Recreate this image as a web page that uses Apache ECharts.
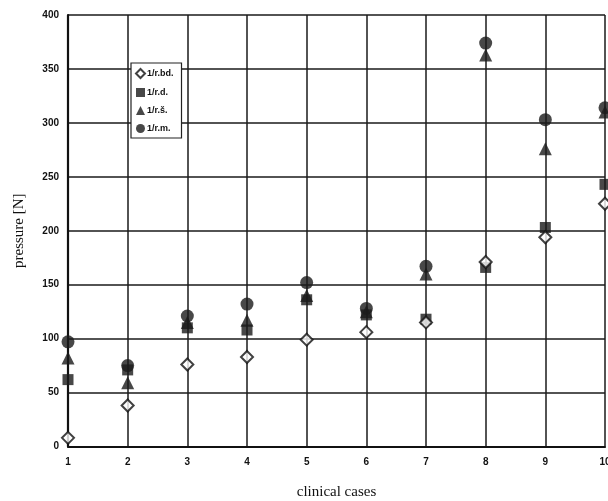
<!DOCTYPE html>
<html><head><meta charset="utf-8">
<script src="https://cdn.jsdelivr.net/npm/echarts@6/dist/echarts.min.js"></script>
<style>html,body{margin:0;padding:0;background:#fff}#c{width:608px;height:501px}</style>
</head><body><div id="c"></div>
<script>
const cases = [1,2,3,4,5,6,7,8,9,10];
const seriesNames = ['1/r.bd.', '1/r.d.', '1/r.š.', '1/r.m.'];
const rBd = [8, 38, 76, 83, 99, 106, 115, 171, 194, 225];
const rD  = [62, 71, 110, 108, 136, 122, 118, 166, 203, 243];
const rS  = [82, 59, 115, 117, 140, 125, 160, 363, 276, 310];
const rM  = [97, 75, 121, 132, 152, 128, 167, 374, 303, 314];
const yTicks = [0, 50, 100, 150, 200, 250, 300, 350, 400];

const pair = v => cases.map((c, i) => [c, v[i]]);
const chart = echarts.init(document.getElementById('c'), null, {renderer: 'canvas'});
const sym = {
  '1/r.bd.': {symbol: 'diamond', size: 12, style: {color: '#fff', borderColor: '#111', borderWidth: 2}},
  '1/r.d.': {symbol: 'rect', size: 11, style: {color: '#1a1a1a'}},
  '1/r.š.': {symbol: 'triangle', size: 13, style: {color: '#1a1a1a'}},
  '1/r.m.': {symbol: 'circle', size: 13, style: {color: '#1a1a1a'}}
};
const dataSets = [rBd, rD, rS, rM];
const order = [0, 1, 2, 3];
chart.setOption({
  animation: false,
  backgroundColor: '#fff',
  grid: {left: 68, right: 3, top: 15, bottom: 54.5, outerBoundsMode: 'none', containLabel: false},
  legend: {
    data: seriesNames,
    orient: 'vertical', left: 131, top: 63,
    width: 52,
    itemWidth: 9, itemHeight: 9, itemGap: 9,
    padding: [5, 8, 5, 4],
    backgroundColor: '#fff',
    borderColor: '#222', borderWidth: 1.2,
    textStyle: {fontFamily: 'Liberation Sans, Arial', fontWeight: 'bold', fontSize: 9, color: '#111', padding: [0, 0, 0, -3]}
  },
  xAxis: {
    type: 'value', min: 1, max: 10, interval: 1,
    name: 'clinical cases', nameLocation: 'middle', nameGap: 38,
    nameTextStyle: {fontFamily: 'Liberation Serif, Times New Roman', fontSize: 15, color: '#111'},
    axisLine: {show: true, lineStyle: {color: '#111', width: 2.2}},
    axisTick: {show: false},
    axisLabel: {fontFamily: 'Liberation Sans, Arial', fontWeight: 'bold', fontSize: 10, color: '#111', margin: 11},
    splitLine: {show: true, lineStyle: {color: '#1a1a1a', width: 1.5}}
  },
  yAxis: {
    type: 'value', min: 0, max: 400, interval: 50,
    name: 'pressure [N]', nameLocation: 'middle', nameGap: 41,
    nameTextStyle: {fontFamily: 'Liberation Serif, Times New Roman', fontSize: 15, color: '#111'},
    axisLine: {show: true, lineStyle: {color: '#111', width: 2.2}},
    axisTick: {show: false},
    axisLabel: {fontFamily: 'Liberation Sans, Arial', fontWeight: 'bold', fontSize: 10, color: '#111', margin: 9,
      formatter: v => yTicks.includes(v) ? String(v) : ''},
    splitLine: {show: true, lineStyle: {color: '#1a1a1a', width: 1.5}}
  },
  series: order.map(i => ({
    name: seriesNames[i], type: 'scatter',
    symbol: sym[seriesNames[i]].symbol,
    symbolSize: sym[seriesNames[i]].size,
    itemStyle: sym[seriesNames[i]].style,
    z: 10 - i,
    data: pair(dataSets[i])
  })).reverse()
});
</script></body></html>
